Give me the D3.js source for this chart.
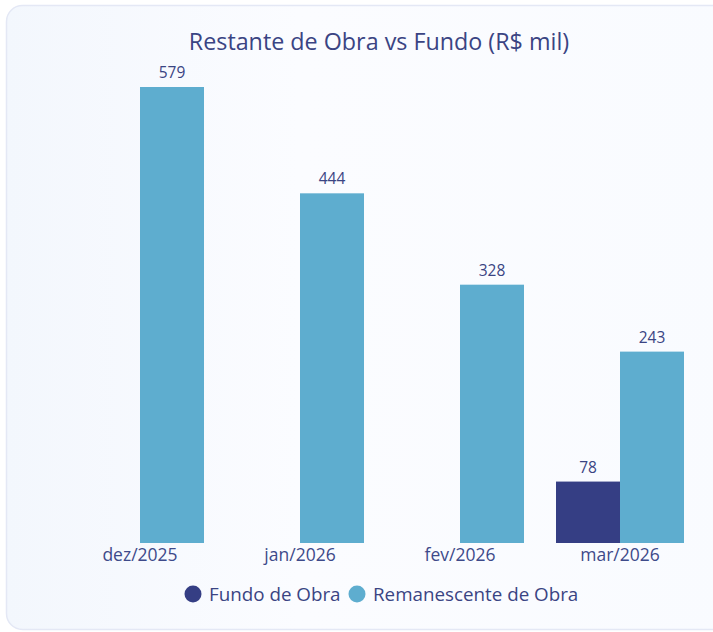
<!DOCTYPE html>
<html>
<head>
<meta charset="utf-8">
<script src="https://cdn.jsdelivr.net/npm/d3@7"></script>
<style>
  body { margin: 0; background: #ffffff; }
  svg { display: block; font-family: 'Open Sans', 'Noto Sans', sans-serif; }
</style>
</head>
<body>
<div class="canvas"></div>
<script>
const months = ['dez/2025', 'jan/2026', 'fev/2026', 'mar/2026']
const fundo = [0, 0, 0, 78]
const remanescente = [579, 444, 328, 243]
const seriesNames = ['Fundo de Obra', 'Remanescente de Obra']
const seriesColors = ['#353e84', '#5eadcf']

const dimension = { width: 713, height: 632 }
const plot = { left: 60, right: 700, top: 87, bottom: 543 }

const svg = d3.select('.canvas')
  .append('svg')
  .attr('width', dimension.width)
  .attr('height', dimension.height)

// card background
const defs = svg.append('defs')
const grad = defs.append('linearGradient').attr('id', 'cardBg')
  .attr('x1', 0).attr('x2', 1).attr('y1', 0).attr('y2', 0)
grad.append('stop').attr('offset', '0%').attr('stop-color', '#f3f7fd')
grad.append('stop').attr('offset', '40%').attr('stop-color', '#fbfcff')
grad.append('stop').attr('offset', '100%').attr('stop-color', '#f9fbff')

svg.append('rect')
  .attr('x', 6.5).attr('y', 5.5)
  .attr('width', 730).attr('height', 624)
  .attr('rx', 16)
  .attr('fill', 'url(#cardBg)')
  .attr('stroke', '#e4e8f5')
  .attr('stroke-width', 1.5)

svg.append('text')
  .attr('x', 379).attr('y', 50)
  .attr('text-anchor', 'middle')
  .attr('font-size', 23.3)
  .attr('fill', '#3a4483')
  .text('Restante de Obra vs Fundo (R$ mil)')

const x = d3.scaleBand()
  .domain(months)
  .range([plot.left, plot.right])
  .paddingInner(0.2)
  .paddingOuter(0.1)

const xs = d3.scaleBand()
  .domain([0, 1])
  .range([0, x.bandwidth()])

const y = d3.scaleLinear()
  .domain([0, 579])
  .range([plot.bottom, plot.top])

const rows = months.map((m, i) => ({ month: m, values: [fundo[i], remanescente[i]] }))

const groups = svg.selectAll('g.group')
  .data(rows)
  .enter().append('g')
    .attr('class', 'group')
    .attr('transform', d => `translate(${x(d.month)}, 0)`)

const bars = groups.selectAll('g.bar')
  .data(d => d.values.map((v, k) => ({ v, k })).filter(e => e.v > 0))
  .enter().append('g')
    .attr('class', 'bar')

bars.append('rect')
  .attr('x', d => xs(d.k))
  .attr('width', xs.bandwidth())
  .attr('y', d => y(d.v))
  .attr('height', d => y(0) - y(d.v))
  .attr('fill', d => seriesColors[d.k])

bars.append('text')
  .attr('x', d => xs(d.k) + xs.bandwidth() / 2)
  .attr('y', d => y(d.v) - 9)
  .attr('text-anchor', 'middle')
  .attr('font-size', 15.5)
  .attr('fill', '#3a4483')
  .text(d => d.v)

// x axis labels
const xAxis = svg.append('g')
  .attr('transform', `translate(0, ${plot.bottom})`)
  .call(d3.axisBottom(x).tickSize(0).tickPadding(6))
xAxis.select('.domain').remove()
xAxis.selectAll('text')
  .attr('font-size', 17.5)
  .attr('font-family', "'Open Sans', 'Noto Sans', sans-serif")
  .attr('fill', '#3e4a8a')

// legend
const legend = svg.append('g')
  .attr('transform', 'translate(193, 594)')
const legendX = [0, 164]
seriesNames.forEach((name, i) => {
  const item = legend.append('g').attr('transform', `translate(${legendX[i]}, 0)`)
  item.append('circle').attr('r', 8.5).attr('fill', seriesColors[i])
  item.append('text')
    .attr('x', 16).attr('y', 6.5)
    .attr('font-size', 18.8)
    .attr('fill', '#3a4483')
    .text(name)
})
</script>
</body>
</html>
